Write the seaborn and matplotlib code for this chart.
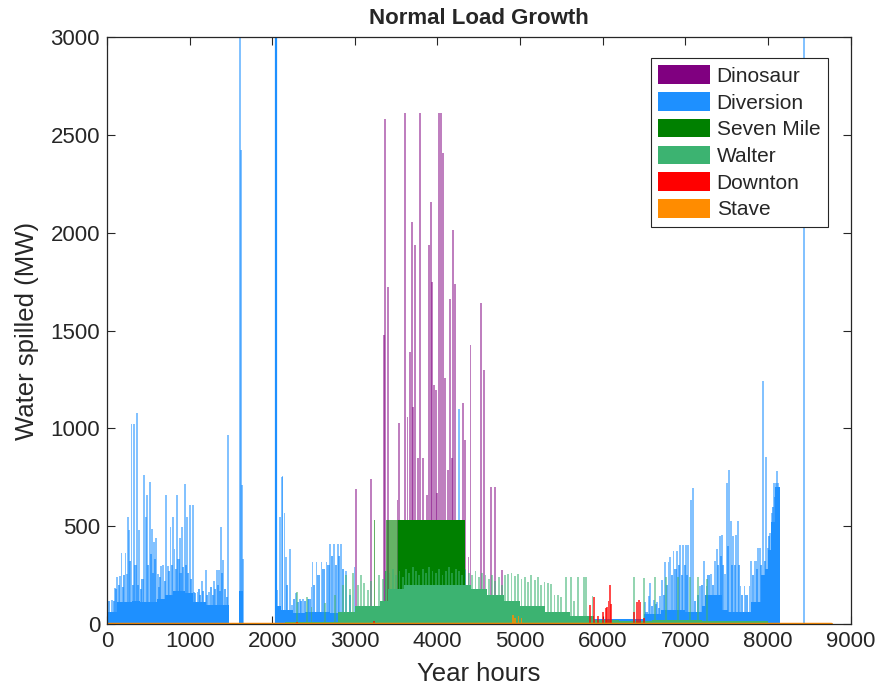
import matplotlib
matplotlib.use("Agg")
import matplotlib.pyplot as plt
from matplotlib.patches import Patch
import seaborn as sns

# plant names and colours (legend order = drawing order)
plants = ["Dinosaur", "Diversion", "Seven Mile", "Walter", "Downton", "Stave"]
colors = ["#800080", "#1E90FF", "#008000", "#3CB371", "#FF0000", "#FF8C00"]

# ---- Dinosaur: spikes (hour, MW)
dino_hours = [3016, 3196, 3356, 3368, 3400, 3516, 3536, 3608, 3636, 3664, 3688, 3704,
              3728, 3760, 3792, 3824, 3876, 3896, 3920, 3936, 3960, 3980, 3996, 4016,
              4040, 4064, 4088, 4128, 4156, 4176, 4184, 4208, 4304, 4328, 4376, 4400,
              4524, 4560, 4644, 4692, 4776]
dino_mw = [690, 740, 1477, 2580, 1724, 634, 1029, 2610, 1060, 1392, 2056, 1110,
           1937, 847, 2610, 847, 659, 1937, 2158, 1749, 1221, 1196, 667, 2610,
           2610, 2408, 1255, 787, 1659, 847, 2013, 1737, 1128, 940, 344, 1426,
           1640, 1300, 700, 700, 276]

# ---- Diversion: base level (step), tall spikes and mid-level spikes
div_base_hours = [0, 120, 300, 400, 600, 700, 800, 950, 1040, 1200, 1480, 1600, 1650,
                  2040, 2100, 2250, 2400, 2700, 3000, 3400, 4800, 5000, 5900, 6500,
                  6700, 7000, 7200, 7240, 7440, 7520, 7800, 7916, 7960, 8000, 8040,
                  8080, 8150]
div_base_mw = [60, 110, 120, 110, 130, 150, 170, 160, 110, 95, 0, 170, 0,
               90, 70, 55, 60, 55, 40, 20, 10, 5, 25, 50,
               70, 60, 90, 150, 70, 60, 110, 250, 280, 380, 520,
               700, 0]
div_hours = [56, 96, 124, 156, 176, 224, 240, 256, 268, 296, 328, 360, 388, 448, 468,
             488, 520, 544, 568, 596, 616, 656, 680, 712, 736, 768, 796, 816, 848, 880,
             904, 944, 968, 1000, 1040, 1056, 1096, 1148, 1196, 1236, 1296, 1328, 1356,
             1384, 1408, 1464, 1612, 1620, 1632, 1644, 2056, 2096, 2116, 2124,
             2148, 2164, 2216, 2236, 2288, 2336, 2376, 2436, 2476, 2488, 2536, 2596,
             2656, 2696, 2744, 2796, 2836, 2896, 2996, 4256, 4336, 6516, 6564, 6568,
             6616, 6656, 6696, 6716, 6756, 6796, 6816, 6856, 6896, 6936, 6976, 7006,
             7036, 7064, 7088, 7176, 7228, 7256, 7308, 7356, 7384, 7416, 7444, 7476,
             7500, 7528, 7548, 7576, 7608, 7636, 7668, 7716, 7776, 7796, 7836, 7856,
             7884, 7908, 7940, 7980, 8004, 8028, 8044, 8068, 8096, 8108, 8124, 8436]
div_mw = [123, 182, 242, 245, 364, 364, 258, 545, 480, 1022, 1022, 1080, 480, 760, 545,
          659, 727, 484, 421, 438, 258, 295, 300, 659, 295, 497, 548, 381, 659, 438,
          497, 714, 548, 607, 607, 165, 165, 222, 276, 165, 222, 276, 276,
          497, 327, 966, 3200, 2420, 710, 330, 174, 545, 753, 756,
          565, 344, 381, 97, 160, 126, 126, 126, 188, 315, 315, 315,
          315, 409, 409, 409, 409, 273, 293, 1100, 276, 114, 143, 208,
          123, 114, 141, 225, 318, 318, 344, 373, 373, 404, 404, 404,
          404, 634, 697, 193, 320, 193, 256, 320, 383, 448, 457, 256,
          719, 787, 524, 448, 457, 526, 193, 193, 193, 320, 320, 320,
          389, 386, 1243, 855, 389, 466, 566, 719, 719, 780, 719, 3200]
div_mid_hours = [20, 40, 80, 110, 140, 190, 210, 280, 310, 345, 375, 410, 430, 500, 530,
                 555, 580, 630, 645, 700, 750, 785, 830, 865, 890, 920, 955, 985, 1015,
                 1070, 1110, 1130, 1165, 1210, 1260, 1280, 1310, 1340, 1370, 1395, 1430,
                 1450, 2180, 2260, 2310, 2350, 2400, 2450, 2510, 2560, 2620, 2680, 2720,
                 2770, 2810, 2860, 2940, 6530, 6600, 6640, 6680, 6740, 6780, 6840, 6880,
                 6920, 6960, 7000, 7020, 7120, 7150, 7200, 7280, 7330, 7400, 7430, 7460,
                 7520, 7560, 7600, 7650, 7690, 7740, 7820, 7870, 7920, 7960, 8016, 8056,
                 8084, 8136]
div_mid_mw = [120, 60, 120, 180, 200, 190, 250, 320, 200, 300, 200, 180, 230, 300, 360,
              260, 330, 190, 240, 220, 270, 300, 280, 330, 260, 290, 300, 260, 230,
              160, 180, 150, 170, 150, 190, 150, 180, 200, 170, 260, 180,
              140, 200, 130, 110, 120, 120, 130, 200, 250, 280, 300, 350,
              300, 350, 280, 150, 60, 90, 100, 80, 150, 200, 250, 280,
              300, 250, 300, 250, 120, 150, 200, 250, 200, 300, 350, 300,
              400, 300, 300, 300, 150, 150, 250, 280, 300, 320, 450, 600,
              650, 400]
# the dark full-height line near hour 2040
div_dark_hours = [2040]
div_dark_mw = [3200]

# ---- Seven Mile: solid block, lighter block, one spike
seven_solid_hours = [3520, 4330]
seven_solid_mw = [530, 0]
seven_light_hours = [3230, 3245, 3360, 3380, 3520]
seven_light_mw = [530, 0, 270, 530, 0]

# ---- Walter: base level and spikes
walter_base_hours = [2150, 2800, 3000, 3300, 3400, 3600, 4400, 4600, 4800, 5000, 5300,
                     5600, 5900, 6200, 6600, 7200, 8000]
walter_base_mw = [10, 60, 90, 120, 180, 200, 180, 150, 120, 90, 60,
                  40, 20, 15, 20, 15, 0]
walter_hours = [2296, 2416, 2476, 2636, 2760, 2856, 2896, 2940, 2976, 3036, 3076, 3108,
                3156, 3200, 3296, 3340, 3380, 3420, 3460, 3500, 3540, 3580, 3620, 3660,
                3700, 3740, 3780, 3820, 3860, 3900, 3940, 3980, 4020, 4060, 4100, 4140,
                4180, 4220, 4260, 4300, 4340, 4380, 4420, 4460, 4500, 4540, 4580, 4620,
                4660, 4700, 4740, 4780, 4816, 4856, 4896, 4936, 4976, 5016, 5056, 5096,
                5136, 5176, 5216, 5256, 5296, 5336, 5376, 5416, 5456, 5496, 5556, 5616,
                5656, 5704, 5776, 5796, 5876, 6376, 6496, 6636, 6768, 6908, 7056, 7156,
                7264]
walter_mw = [165, 139, 89, 106, 150, 199, 250, 180, 259, 200, 250, 208,
             174, 220, 250, 230, 270, 260, 280, 250, 270, 240, 280, 260,
             290, 270, 250, 280, 260, 290, 270, 260, 280, 250, 270, 290,
             260, 280, 270, 250, 280, 260, 250, 270, 240, 260, 250, 230,
             250, 220, 240, 200, 250, 255, 260, 245, 255, 230, 240, 215,
             250, 225, 240, 200, 215, 210, 205, 150, 148, 140, 238, 238,
             120, 238, 238, 238, 141, 238, 233, 238, 238, 238, 238, 238,
             230]

# ---- Downton: spikes
downton_hours = [2296, 3236, 5848, 5896, 5940, 6000, 6040, 6056, 6070, 6088, 6100,
                 6380, 6416, 6440, 6456, 6500]
downton_mw = [10, 15, 97, 139, 40, 60, 80, 85, 120, 199, 100,
              60, 110, 123, 114, 30]

# ---- Stave: mostly zero, a few small spikes
stave_hours = [4916, 4940, 4980, 5016]
stave_mw = [46, 30, 40, 30]
stave_line_hours = [0, 8760]
stave_line_mw = [0, 0]

sns.set_theme(style="white")
plt.rcParams["font.family"] = ["Liberation Sans", "DejaVu Sans"]

fig = plt.figure(figsize=(8.8, 6.98), dpi=100)
ax = fig.add_axes([0.1216, 0.106, 0.845, 0.841])

c = dict(zip(plants, colors))
w = 22

ax.bar(dino_hours, dino_mw, width=w, color=c["Dinosaur"], alpha=0.5, lw=0)

ax.fill_between(div_base_hours, div_base_mw, step="post", color=c["Diversion"], lw=0)
ax.bar(div_mid_hours, div_mid_mw, width=26, color=c["Diversion"], alpha=0.7, lw=0)
ax.bar(div_hours, div_mw, width=w, color=c["Diversion"], alpha=0.55, lw=0)
ax.vlines(div_dark_hours, 0, div_dark_mw, color=c["Diversion"], lw=1.6)

ax.fill_between(seven_light_hours, seven_light_mw, step="post", color=c["Seven Mile"],
                alpha=0.6, lw=0)
ax.fill_between(seven_solid_hours, seven_solid_mw, step="post", color=c["Seven Mile"],
                lw=0)

ax.fill_between(walter_base_hours, walter_base_mw, step="post", color=c["Walter"], lw=0)
ax.bar(walter_hours, walter_mw, width=w, color=c["Walter"], alpha=0.55, lw=0)

ax.bar(downton_hours, downton_mw, width=w, color=c["Downton"], alpha=0.7, lw=0)

ax.bar(stave_hours, stave_mw, width=w, color=c["Stave"], alpha=0.8, lw=0)
sns.lineplot(x=stave_line_hours, y=stave_line_mw, color=c["Stave"], lw=2.5, ax=ax)

ax.set_xlim(0, 9000)
ax.set_ylim(0, 3000)
ax.set_xticks(range(0, 9001, 1000))
ax.set_yticks(range(0, 3001, 500))
ax.tick_params(direction="in", length=6, width=0.8, labelsize=16, colors="#262626",
               top=True, right=True, bottom=True, left=True, pad=5)
for s in ax.spines.values():
    s.set_color("#262626")
    s.set_linewidth(0.9)

ax.set_xlabel("Year hours", fontsize=18.5, color="#262626", labelpad=7)
ax.set_ylabel("Water spilled (MW)", fontsize=18.5, color="#262626", labelpad=8)
ax.set_title("Normal Load Growth", fontsize=16, fontweight="bold", pad=9)

handles = [Patch(facecolor=c[p], edgecolor="none", label=p) for p in plants]
leg = ax.legend(handles=handles, loc="upper right", bbox_to_anchor=(0.969, 0.964),
                borderaxespad=0,
                fontsize=15, handlelength=2.5, handleheight=1.0, labelspacing=0.3,
                handletextpad=0.3, borderpad=0.35, fancybox=False, framealpha=1)
leg.get_frame().set_edgecolor("#262626")
leg.get_frame().set_linewidth(0.8)

fig.savefig("out.png", dpi=100)
